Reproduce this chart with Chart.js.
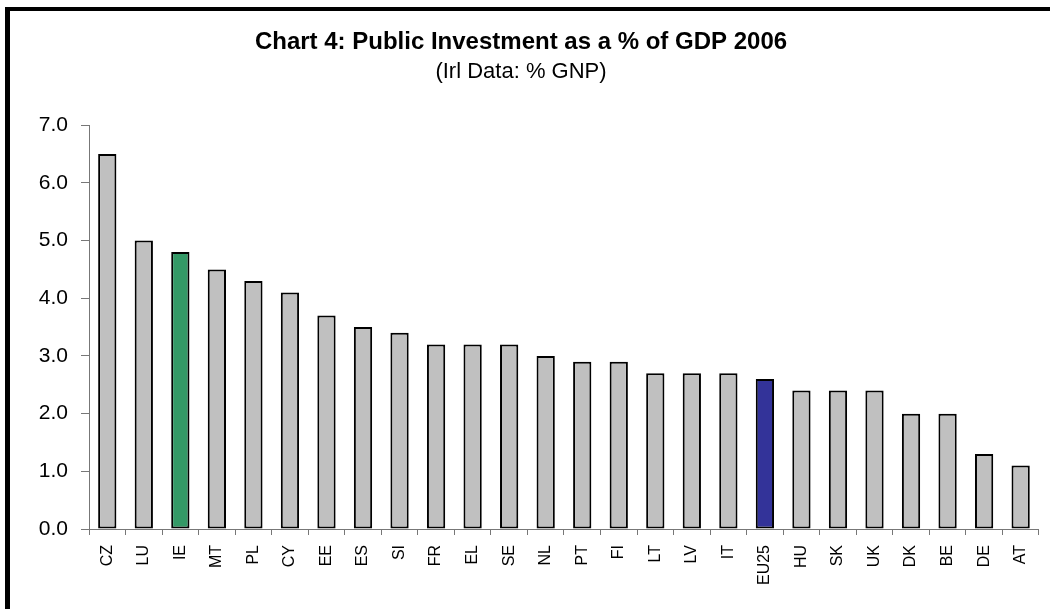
<!DOCTYPE html>
<html>
<head>
<meta charset="utf-8">
<title>Chart 4: Public Investment as a % of GDP 2006</title>
<script src="https://cdn.jsdelivr.net/npm/chart.js"></script>
<style>
    html, body {
        margin: 0;
        padding: 0;
        background: #fff;
        overflow: hidden;
    }
    .chart-wrap {
        position: relative;
        width: 1050px;
        height: 609px;
    }
    .frame {
        position: absolute;
        left: 5px;
        top: 7px;
        width: 2000px;
        height: 2000px;
        border-left: 5px solid #000;
        border-top: 4px solid #000;
        pointer-events: none;
    }
</style>
</head>
<body>
<div class="chart-wrap">
    <canvas id="chart" width="1050" height="609"></canvas>
    <div class="frame"></div>
</div>
<script>
// Countries, sorted as in the source chart
const countries = ['CZ', 'LU', 'IE', 'MT', 'PL', 'CY', 'EE', 'ES', 'SI', 'FR', 'EL', 'SE', 'NL',
    'PT', 'FI', 'LT', 'LV', 'IT', 'EU25', 'HU', 'SK', 'UK', 'DK', 'BE', 'DE', 'AT'];

// Public investment, % of GDP (Ireland: % of GNP)
const investment = [6.5, 5.0, 4.8, 4.5, 4.3, 4.1, 3.7, 3.5, 3.4, 3.2, 3.2, 3.2, 3.0,
    2.9, 2.9, 2.7, 2.7, 2.7, 2.6, 2.4, 2.4, 2.4, 2.0, 2.0, 1.3, 1.1];

const yTicks = [0, 1, 2, 3, 4, 5, 6, 7];

const GREY = '#C0C0C0';
const GREEN = '#339966';
const BLUE = '#333399';
const AXIS = '#777777';
const FONT = 'Liberation Sans, Arial, sans-serif';

// Ireland and the EU average stand out
const barColors = countries.map(c => {
    if (c === 'IE') return GREEN;
    if (c === 'EU25') return BLUE;
    return GREY;
});

const ctx = document.getElementById('chart');

new Chart(ctx, {
    type: 'bar',
    data: {
        labels: countries,
        datasets: [{
            data: investment,
            backgroundColor: barColors,
            borderColor: '#000',
            borderWidth: 2,
            borderSkipped: false,
            barPercentage: 0.5,
            categoryPercentage: 1
        }]
    },
    options: {
        responsive: false,
        animation: false,
        layout: {
            padding: { left: 0, right: 8, top: 0, bottom: 0 }
        },
        plugins: {
            legend: { display: false },
            tooltip: { enabled: false },
            title: {
                display: true,
                text: 'Chart 4: Public Investment as a % of GDP 2006',
                color: '#000',
                font: { family: FONT, size: 24, weight: 'bold' },
                padding: { top: 28, bottom: 0 }
            },
            subtitle: {
                display: true,
                text: '(Irl Data: % GNP)',
                color: '#000',
                font: { family: FONT, size: 22 },
                padding: { top: 2, bottom: 40 }
            }
        },
        scales: {
            x: {
                grid: {
                    offset: true,
                    drawOnChartArea: false,
                    tickLength: 6,
                    color: AXIS
                },
                border: { color: AXIS, width: 1 },
                ticks: {
                    autoSkip: false,
                    minRotation: 90,
                    maxRotation: 90,
                    padding: 10,
                    color: '#000',
                    font: { family: FONT, size: 16 }
                },
                afterFit: (scale) => { scale.height = 80; }
            },
            y: {
                min: 0,
                max: 7,
                afterBuildTicks: (scale) => {
                    scale.ticks = yTicks.map(v => ({ value: v }));
                },
                grid: {
                    drawOnChartArea: false,
                    tickLength: 8,
                    color: AXIS
                },
                border: { color: AXIS, width: 1 },
                ticks: {
                    padding: 13,
                    color: '#000',
                    font: { family: FONT, size: 21 },
                    callback: (value) => Number(value).toFixed(1)
                },
                afterFit: (scale) => { scale.width = 89; }
            }
        }
    }
});
</script>
</body>
</html>
